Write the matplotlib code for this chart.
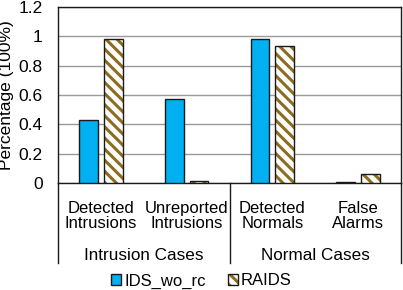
import numpy as np
import matplotlib
matplotlib.use('Agg')
import matplotlib.pyplot as plt
from matplotlib.colors import to_rgba

plt.rcParams['font.family'] = ['Liberation Sans', 'DejaVu Sans']
plt.rcParams['hatch.linewidth'] = 2.2

categories = ["Detected\nIntrusions", "Unreported\nIntrusions", "Detected\nNormals", "False\nAlarms"]
groups = ["Intrusion Cases", "Normal Cases"]
ids_wo_rc = [0.43, 0.57, 0.985, 0.01]
raids = [0.98, 0.015, 0.935, 0.06]
yticks = [0, 0.2, 0.4, 0.6, 0.8, 1, 1.2]
ytick_labels = ["0", "0.2", "0.4", "0.6", "0.8", "1", "1.2"]

BLUE = '#00B0F0'
BROWN = '#8C6D1F'
EDGE = '#1a1a1a'
HATCH = '\\\\\\'


def brown_hatch(patch):
    # hatch takes the edge colour when it is set, so swap the edge back afterwards
    patch.set_edgecolor(BROWN)
    patch._edgecolor = to_rgba(EDGE)


fig = plt.figure(figsize=(4.03, 2.9), dpi=100)
ax = fig.add_axes([58/403, 1-183/290, 343/403, 176/290])

x = np.arange(len(categories))
w = 0.22
off = 0.145
b1 = ax.bar(x - off, ids_wo_rc, w, color=BLUE, edgecolor=EDGE, linewidth=1.0, zorder=3, label='IDS_wo_rc')
b2 = ax.bar(x + off, raids, w, color='white', linewidth=1.0, hatch=HATCH, zorder=3, label='RAIDS')
for p in b2:
    brown_hatch(p)

ax.set_xlim(-0.5, 3.5)
ax.set_ylim(0, 1.2)
ax.set_yticks(yticks)
ax.set_yticklabels(ytick_labels, fontsize=12.5)
ax.set_xticks([])
ax.tick_params(axis='y', length=0, pad=11)
ax.yaxis.grid(True, color='#9a9a9a', linewidth=1.0, zorder=0)
ax.set_axisbelow(True)
for s in ax.spines.values():
    s.set_color(EDGE)
    s.set_linewidth(1.0)
ax.set_ylabel("Percentage (100%)", fontsize=12.5, labelpad=3)

# category and group labels under the axis
trans = ax.get_xaxis_transform()
for i, c in enumerate(categories):
    ax.text(x[i], -(216-183)/176, c, transform=trans, ha='center', va='center',
            fontsize=12, linespacing=1.05)
for j, g in enumerate(groups):
    ax.text(0.5 + 2*j, -(256-183)/176, g, transform=trans, ha='center', va='center', fontsize=12.3)
for xs in [-0.5, 1.5, 3.5]:
    ax.plot([xs, xs], [0, -(263-183)/176], transform=trans, color=EDGE, linewidth=1.0, clip_on=False)

leg = fig.legend(handles=[b1, b2], loc='center', bbox_to_anchor=(0.5, 1-281/290), ncol=2,
                 frameon=False, fontsize=12, handlelength=0.6, handleheight=0.6,
                 handletextpad=0.2, columnspacing=1.3, borderaxespad=0)
brown_hatch(leg.legend_handles[1])

fig.savefig('out.png', dpi=100)
